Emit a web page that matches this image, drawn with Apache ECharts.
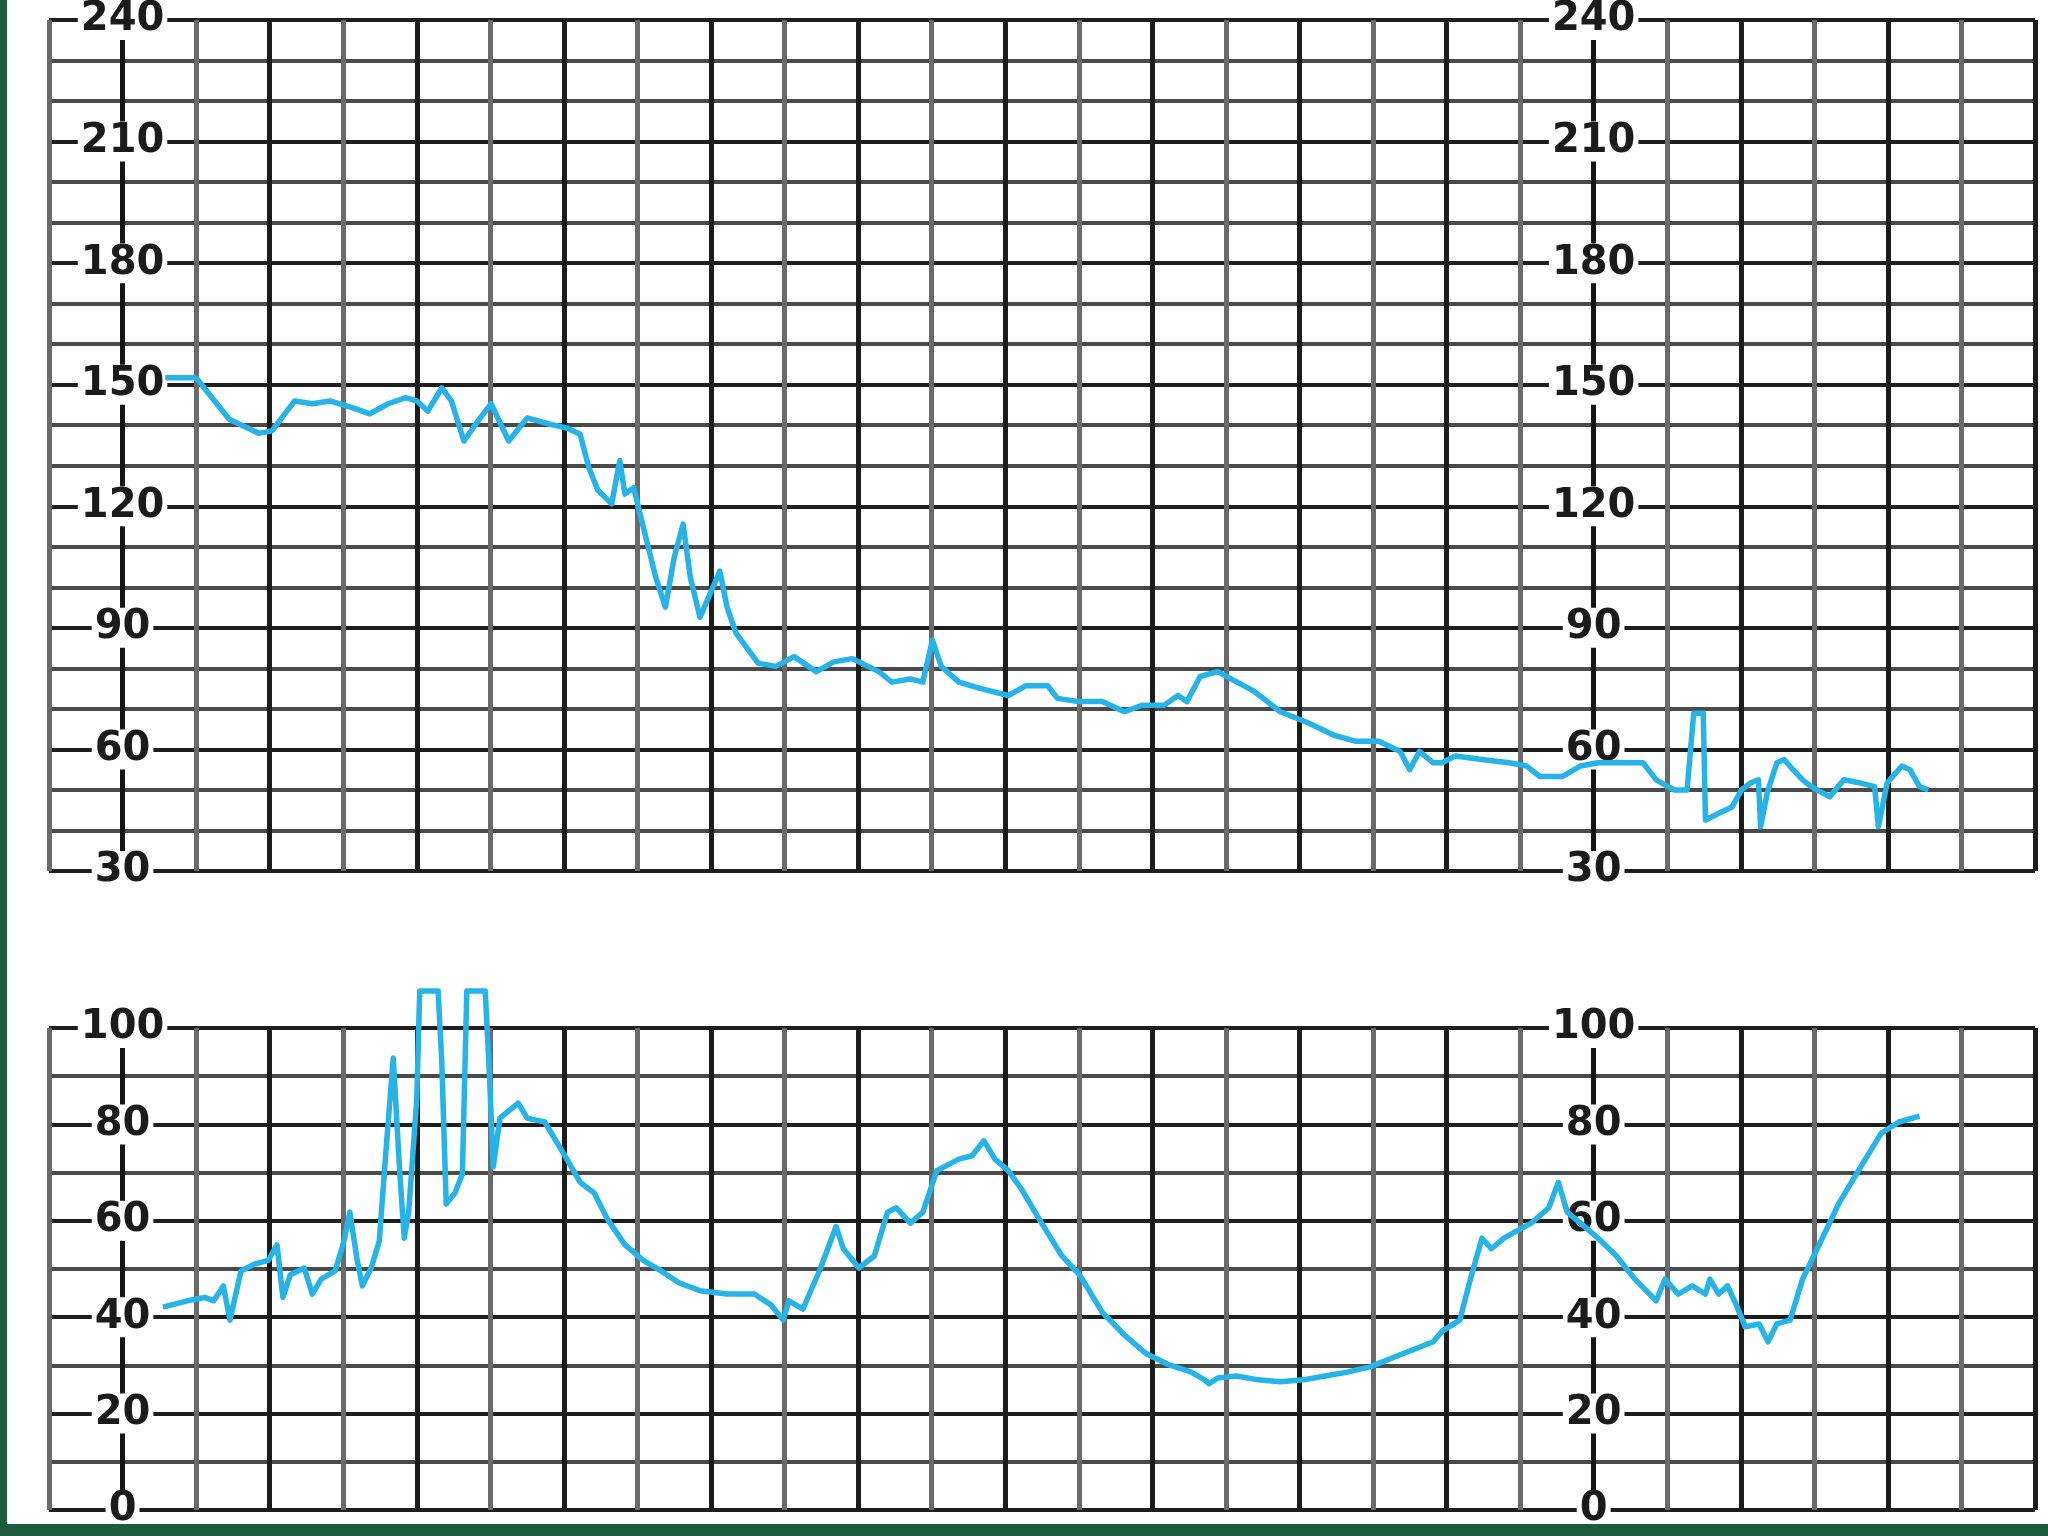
<!DOCTYPE html>
<html>
<head>
<meta charset="utf-8">
<script src="https://cdn.jsdelivr.net/npm/echarts@6/dist/echarts.min.js"></script>
<style>
  html, body { margin: 0; padding: 0; background: #ffffff; }
  #chart { width: 2048px; height: 1536px; }
</style>
</head>
<body>
<div id="chart"></div>
<script>
// ---- Data (x in chart-grid column units, 0..27) ----
const topTickLabels = [30, 60, 90, 120, 150, 180, 210, 240];
const bottomTickLabels = [0, 20, 40, 60, 80, 100];
const columnCount = 27;

const topX = [1.58, 2.00, 2.45, 2.85, 3.03, 3.34, 3.58, 3.82, 4.13, 4.36, 4.61, 4.85, 5.00, 5.15, 5.34, 5.47, 5.64, 5.83, 6.01, 6.25, 6.50, 6.80, 7.04, 7.22,
  7.34, 7.46, 7.65, 7.76, 7.83, 7.95, 8.08, 8.25, 8.38, 8.50, 8.62, 8.72, 8.85, 9.12, 9.22, 9.34, 9.64, 9.88, 10.13, 10.43, 10.67, 10.92,
  11.28, 11.46, 11.71, 11.88, 12.01, 12.13, 12.37, 12.67, 13.04, 13.28, 13.58, 13.71, 14.00, 14.32, 14.62, 14.86, 15.16, 15.35, 15.47,
  15.65, 15.89, 16.07, 16.38, 16.74, 17.10, 17.47, 17.77, 18.08, 18.37, 18.50, 18.63, 18.82, 18.94, 19.12, 19.48, 19.85, 20.09, 20.27,
  20.57, 20.82, 21.06, 21.43, 21.67, 21.85, 22.09, 22.27, 22.36, 22.49, 22.52, 22.71, 22.88, 23.01, 23.13, 23.24, 23.27, 23.36, 23.49,
  23.59, 23.71, 23.84, 23.96, 24.21, 24.40, 24.63, 24.82, 24.87, 24.99, 25.19, 25.30, 25.43, 25.55];
const topY = [151.7, 151.7, 141.5, 138, 138.6, 146, 145.3, 146, 144.3, 142.8, 145.3, 146.8, 146, 143.5, 149.2, 146, 136.1, 141, 145.3, 136.1, 141.8, 140.3, 139.3, 137.8,
  129.5, 124, 120.6, 131.3, 123, 124.6, 114.8, 102.4, 95.1, 107.4, 115.6, 102.4, 92.6, 104, 95, 88.7, 81.3, 80.5, 82.9, 79.2, 81.6, 82.4,
  79.2, 76.6, 77.4, 76.6, 87, 80.5, 76.6, 75, 73.3, 75.7, 75.7, 72.6, 71.8, 71.8, 69.3, 70.9, 70.9, 73.3, 71.8,
  78, 79.2, 77.4, 74.4, 69.3, 66.7, 63.5, 62, 62, 59.5, 55, 59.5, 56.7, 56.7, 58.4, 57.5, 56.7, 55.9, 53.3,
  53.3, 55.9, 56.7, 56.7, 56.7, 52.5, 50, 50, 68.9, 68.9, 42.6, 44.3, 45.8, 50, 51.7, 52.5, 40.9, 49.3, 56.7,
  57.5, 55, 52.5, 50.8, 48.3, 52.5, 51.7, 50.8, 40.9, 51.7, 55.9, 55, 50.8, 50];

const bottomX = [1.55, 1.88, 2.12, 2.24, 2.37, 2.46, 2.61, 2.79, 2.98, 3.10, 3.18, 3.28, 3.47, 3.58, 3.70, 3.89, 4.01, 4.09, 4.19, 4.26, 4.38, 4.49,
  4.58, 4.68, 4.77, 4.83, 4.89, 5.00, 5.04, 5.29, 5.34, 5.40, 5.52, 5.62, 5.68, 5.93, 5.98, 6.04, 6.13, 6.25, 6.38, 6.50, 6.74, 6.86,
  7.04, 7.22, 7.41, 7.59, 7.83, 8.08, 8.32, 8.57, 8.85, 9.22, 9.59, 9.82, 9.98, 10.06, 10.25, 10.49, 10.70, 10.80, 11.01, 11.22, 11.40,
  11.52, 11.71, 11.88, 12.07, 12.37, 12.55, 12.71, 12.86, 13.04, 13.22, 13.46, 13.77, 14.01, 14.32, 14.62, 14.92, 15.23, 15.53, 15.71,
  15.77, 15.89, 16.14, 16.44, 16.74, 17.05, 17.35, 17.65, 17.96, 18.37, 18.82, 18.94, 19.18, 19.30, 19.48, 19.61, 19.78, 19.97, 20.15,
  20.39, 20.52, 20.64, 20.82, 21.06, 21.31, 21.56, 21.85, 21.97, 22.15, 22.34, 22.52, 22.58, 22.70, 22.82, 22.94, 23.06, 23.25, 23.37,
  23.49, 23.67, 23.84, 24.09, 24.33, 24.63, 24.91, 25.15, 25.43];
const bottomY = [42.1, 43.4, 44.1, 43.4, 46.5, 39.4, 49.6, 51, 51.8, 55, 44.1, 48.8, 50.2, 44.8, 47.9, 49.6, 55.8, 61.8, 51.8, 46.5, 50.2, 55.8,
  74.3, 93.8, 69.7, 56.4, 61.8, 85.3, 107.7, 107.7, 93, 63.5, 65.8, 69.7, 107.7, 107.7, 93, 71.2, 81.3, 82.8, 84.4, 81.3, 80.5, 77.4,
  72.8, 68, 65.8, 60.4, 55, 51.8, 49.6, 47.1, 45.5, 44.8, 44.8, 42.5, 39.4, 43.4, 41.7, 50.2, 58.8, 54.2, 50.2, 52.7, 61.8,
  62.7, 59.5, 61.8, 70.4, 72.8, 73.5, 76.6, 72.8, 70.4, 66.6, 60.4, 52.7, 48.8, 41, 36.3, 32.4, 30.1, 28.6, 27,
  26.2, 27.4, 27.8, 27, 26.6, 27, 27.8, 28.6, 29.7, 32.2, 34.9, 37.1, 39.4, 46.5, 56.4, 54.2, 56.4, 58, 59.5,
  62.7, 68, 61.8, 59.5, 56.4, 52.7, 47.9, 43.4, 47.9, 44.8, 46.5, 44.8, 47.9, 44.8, 46.5, 42.5, 38, 38.6, 34.9,
  38.6, 39.4, 47.9, 55.8, 63.5, 71.2, 78.2, 80.5, 81.7];

const zip = (xs, ys) => xs.map((x, i) => [x, ys[i]]);

// ---- Layout ----
const gridLeft = 49, gridRight = 13, gridWidth = 2048 - gridLeft - gridRight;
const colW = gridWidth / columnCount;
const leftAxisOffset = -colW * 1;   // axis drawn on column line 1
const rightAxisOffset = -colW * 21; // axis drawn on column line 21

const labelStyle = {
  show: true,
  align: 'center',
  verticalAlign: 'middle',
  margin: 0,
  fontFamily: 'DejaVu Sans',
  fontWeight: 'bold',
  fontSize: 40,
  color: '#1b1b1b',
  backgroundColor: '#ffffff',
  padding: [0, 3]
};

function yAxes(gridIndex, ticks, minorSplit, withSplit, offset) {
  const min = ticks[0], max = ticks[ticks.length - 1], step = ticks[1] - ticks[0];
  return {
    type: 'value', gridIndex, position: 'left', offset,
    min, max, interval: step,
    axisLine: { show: true, onZero: false, lineStyle: { color: '#151515', width: 5 } },
    axisTick: { show: false },
    axisLabel: labelStyle,
    splitLine: { show: withSplit, lineStyle: { color: '#1e1e1e', width: 4 } },
    minorTick: { show: false, splitNumber: minorSplit },
    minorSplitLine: { show: withSplit, lineStyle: { color: '#4a4a4a', width: 4 } }
  };
}

function xAxis(gridIndex) {
  return {
    type: 'value', gridIndex, min: 0, max: columnCount, interval: 1,
    axisLine: { show: false }, axisTick: { show: false }, axisLabel: { show: false },
    splitLine: { show: true, lineStyle: { color: ['#6a6a6a', '#1c1c1c'], width: 5 } }
  };
}

const chart = echarts.init(document.getElementById('chart'), null, { renderer: 'canvas' });
chart.setOption({
  animation: false,
  backgroundColor: '#ffffff',
  grid: [
    { left: gridLeft, right: gridRight, top: 18, height: 853 },
    { left: gridLeft, right: gridRight, top: 1028, height: 482 }
  ],
  xAxis: [xAxis(0), xAxis(1)],
  yAxis: [
    yAxes(0, topTickLabels, 3, true, leftAxisOffset),
    yAxes(0, topTickLabels, 3, false, rightAxisOffset),
    yAxes(1, bottomTickLabels, 2, true, leftAxisOffset),
    yAxes(1, bottomTickLabels, 2, false, rightAxisOffset)
  ],
  graphic: [
    { type: 'rect', left: 0, top: 0, shape: { width: 7, height: 1536 }, style: { fill: '#1d5b3f' }, z: 100 },
    { type: 'rect', left: 0, top: 1524, shape: { width: 2048, height: 12 }, style: { fill: '#1d5b3f' }, z: 100 }
  ],
  series: [
    {
      type: 'line', xAxisIndex: 0, yAxisIndex: 0, data: zip(topX, topY),
      showSymbol: false, clip: false, z: 5,
      lineStyle: { color: '#25b3e8', width: 5.5, join: 'round' }
    },
    {
      type: 'line', xAxisIndex: 1, yAxisIndex: 2, data: zip(bottomX, bottomY),
      showSymbol: false, clip: false, z: 5,
      lineStyle: { color: '#25b3e8', width: 5.5, join: 'round' }
    }
  ]
});
</script>
</body>
</html>
